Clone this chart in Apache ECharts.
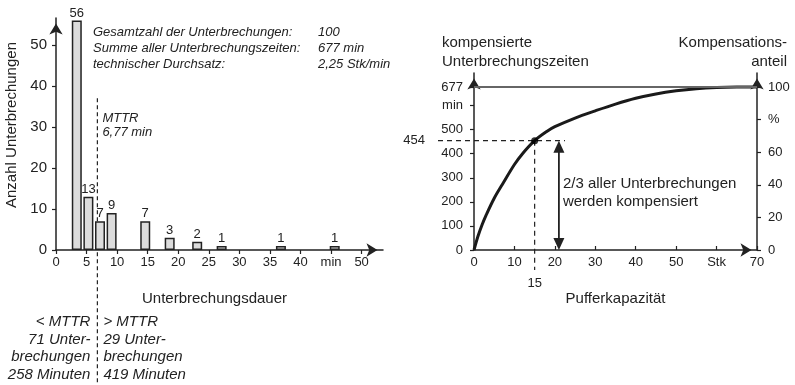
<!DOCTYPE html>
<html>
<head>
<meta charset="utf-8">
<script src="https://cdn.jsdelivr.net/npm/echarts@6/dist/echarts.min.js"></script>
<style>
  html, body { margin: 0; padding: 0; background: #fff; }
  #chart { width: 795px; height: 385px; }
</style>
</head>
<body>
<div id="chart"></div>
<script>
// Histogramm: Unterbrechungsdauer (min) -> Anzahl
var durations = [3.4, 5.3, 7.2, 9.1, 14.6, 18.6, 23.1, 27.1, 36.8, 45.6];
var counts = [56, 13, 7, 9, 7, 3, 2, 1, 1, 1];
var durTicks = [0, 5, 10, 15, 20, 25, 30, 35, 40, 45, 50];
var countTicks = [0, 10, 20, 30, 40, 50];
var mttr = 6.77;
var mttrTop = 37;

// Kompensationskurve: Pufferkapazität (Stk) -> kompensierte Zeit (min)
var bufferSizes = [0, 1, 2, 3, 5, 7, 10, 12, 15, 18, 20, 25, 30, 35, 40, 45, 50, 55, 60, 65, 70];
var compTimes = [0, 58, 105, 145, 215, 272, 355, 400, 454, 492, 512, 548, 578, 606, 630, 648, 661, 670, 675, 677, 677];
var bufferTicks = [0, 10, 20, 30, 40, 50, 60, 70];
var timeTicks = [0, 100, 200, 300, 400, 500, 600, 677];
var shareTicks = [0, 20, 40, 60, 80, 100];
var totalTime = 677;
var markBuffer = 15;
var markTime = 454;
var dashEnd = 22.5;
var arrowBuffer = 21;

var ink = '#222';
var font = 'Liberation Sans, Arial, sans-serif';
var timeMax = 735;

var chart = echarts.init(document.getElementById('chart'));

function axisBase(extra) {
  var a = {
    axisLine: { show: true, lineStyle: { color: ink, width: 1.5 },
      symbol: ['none', 'arrow'], symbolSize: [10, 11], symbolOffset: [0, -5.5] },
    axisTick: { show: true, length: 4, lineStyle: { color: ink, width: 1.2 } },
    axisLabel: { color: ink, fontFamily: font, fontSize: 13 },
    splitLine: { show: false }
  };
  return echarts.util.merge(a, extra, true);
}

var option = {
  animation: false,
  backgroundColor: '#fff',
  textStyle: { fontFamily: font, color: ink },
  grid: [
    { left: 56, top: 18, width: 327, height: 232 },
    { left: 474, top: 73, width: 283, height: 177 }
  ],
  xAxis: [
    axisBase({
      gridIndex: 0, type: 'value', min: 0, max: 53.5,
      name: 'Unterbrechungsdauer', nameLocation: 'middle', nameGap: 41,
      nameTextStyle: { color: ink, fontSize: 15, fontFamily: font, padding: [0, 10, 0, 0] },
      axisTick: { customValues: durTicks },
      axisLabel: { customValues: durTicks, margin: 6,
        formatter: function (v) { return v === 45 ? 'min' : v; } }
    }),
    axisBase({
      gridIndex: 1, type: 'value', min: 0, max: 70,
      name: 'Pufferkapazität', nameLocation: 'middle', nameGap: 41,
      nameTextStyle: { color: ink, fontSize: 15, fontFamily: font },
      axisTick: { customValues: bufferTicks, inside: true },
      axisLabel: { customValues: bufferTicks, margin: 6,
        formatter: function (v) { return v === 60 ? 'Stk' : v; } }
    })
  ],
  yAxis: [
    axisBase({
      gridIndex: 0, type: 'value', min: 0, max: 56.6,
      axisTick: { customValues: countTicks },
      axisLabel: { customValues: countTicks, fontSize: 15, margin: 9 }
    }),
    axisBase({
      gridIndex: 1, type: 'value', min: 0, max: timeMax,
      axisTick: { customValues: timeTicks },
      axisLabel: { customValues: timeTicks, margin: 11,
        formatter: function (v) { return v === 600 ? 'min' : v; } }
    }),
    axisBase({
      gridIndex: 1, type: 'value', position: 'right', min: 0, max: timeMax / totalTime * 100,
      axisTick: { customValues: shareTicks },
      axisLabel: { customValues: shareTicks, margin: 11,
        formatter: function (v) { return v === 80 ? '%' : v; } }
    })
  ],
  series: [
    {
      type: 'bar',
      xAxisIndex: 0, yAxisIndex: 0,
      barWidth: 10,
      itemStyle: { color: '#dcdcdc', borderColor: ink, borderWidth: 1.5 },
      label: { show: true, position: 'top', distance: 1, color: ink, fontSize: 13,
        formatter: function (p) { return p.value[1]; } },
      data: durations.map(function (d, i) { return [d, counts[i]]; })
    },
    {
      type: 'line',
      xAxisIndex: 1, yAxisIndex: 1,
      smooth: 0.35,
      symbol: 'none',
      lineStyle: { color: '#1a1a1a', width: 3 },
      data: bufferSizes.map(function (b, i) { return [b, compTimes[i]]; }),
      markLine: {
        silent: true, symbol: ['none', 'none'], label: { show: false },
        lineStyle: { color: '#666', width: 1.8, type: 'solid' },
        data: [{ yAxis: totalTime }]
      },
      z: 3
    },
    {
      type: 'scatter',
      xAxisIndex: 1, yAxisIndex: 1,
      symbolSize: 7,
      itemStyle: { color: '#000' },
      data: [[markBuffer, markTime]],
      z: 5
    }
  ]
};
chart.setOption(option);

// Beschriftungen und Hilfslinien
var g0 = function (pt) { return chart.convertToPixel({ gridIndex: 0 }, pt); };
var g1 = function (pt) { return chart.convertToPixel({ gridIndex: 1 }, pt); };

function txt(x, y, s, extra) {
  return {
    type: 'text', x: x, y: y, silent: true,
    style: echarts.util.extend({ text: s, fill: ink, font: '13px ' + font, textVerticalAlign: 'middle' }, extra || {})
  };
}

var graphics = [];

// MTTR-Linie
var mTop = g0([mttr, mttrTop]);
graphics.push({ type: 'line', silent: true,
  shape: { x1: mTop[0], y1: mTop[1], x2: mTop[0], y2: 385 },
  style: { stroke: ink, lineWidth: 1.2, lineDash: [4, 3] } });
graphics.push(txt(mTop[0] + 5, mTop[1] + 20, 'MTTR', { font: 'italic 13px ' + font }));
graphics.push(txt(mTop[0] + 5, mTop[1] + 34, '6,77 min', { font: 'italic 13px ' + font }));

var leftLines = ['< MTTR', '71 Unter-', 'brechungen', '258 Minuten'];
var rightLines = ['> MTTR', '29 Unter-', 'brechungen', '419 Minuten'];
leftLines.forEach(function (s, i) {
  graphics.push(txt(mTop[0] - 7, 322 + i * 17.5, s, { font: 'italic 15px ' + font, textAlign: 'right' }));
});
rightLines.forEach(function (s, i) {
  graphics.push(txt(mTop[0] + 6, 322 + i * 17.5, s, { font: 'italic 15px ' + font }));
});

// Kennzahlen
var infoLabels = ['Gesamtzahl der Unterbrechungen:', 'Summe aller Unterbrechungszeiten:', 'technischer Durchsatz:'];
var infoValues = ['100', '677 min', '2,25 Stk/min'];
infoLabels.forEach(function (s, i) {
  graphics.push(txt(93, 32 + i * 16, s, { font: 'italic 13px ' + font }));
  graphics.push(txt(318, 32 + i * 16, infoValues[i], { font: 'italic 13px ' + font }));
});

// y-Achsentitel links
graphics.push({ type: 'text', x: 12, y: 125, rotation: Math.PI / 2, silent: true,
  style: { text: 'Anzahl Unterbrechungen', fill: ink, font: '15px ' + font,
    textAlign: 'center', textVerticalAlign: 'middle' } });

// rechte Grafik: Achsentitel
graphics.push(txt(442, 43, 'kompensierte', { font: '15px ' + font }));
graphics.push(txt(442, 62, 'Unterbrechungszeiten', { font: '15px ' + font }));
graphics.push(txt(787, 43, 'Kompensations-', { font: '15px ' + font, textAlign: 'right' }));
graphics.push(txt(787, 62, 'anteil', { font: '15px ' + font, textAlign: 'right' }));

// 454 / 15 Hilfslinien
var pMark = g1([markBuffer, markTime]);
var pAxis = g1([0, markTime]);
var pEnd = g1([dashEnd, markTime]);
var pBase = g1([markBuffer, 0]);
graphics.push({ type: 'line', silent: true,
  shape: { x1: pAxis[0] - 36, y1: pMark[1], x2: pEnd[0], y2: pMark[1] },
  style: { stroke: ink, lineWidth: 1.2, lineDash: [5, 4] } });
graphics.push({ type: 'line', silent: true,
  shape: { x1: pMark[0], y1: pMark[1], x2: pMark[0], y2: pBase[1] + 20 },
  style: { stroke: ink, lineWidth: 1.2, lineDash: [5, 4] } });
graphics.push(txt(pAxis[0] - 49, pMark[1], String(markTime), { textAlign: 'right' }));
graphics.push(txt(pMark[0], pBase[1] + 33, String(markBuffer), { textAlign: 'center' }));

// Doppelpfeil
var aTop = g1([arrowBuffer, markTime]);
var aBot = g1([arrowBuffer, 0]);
graphics.push({ type: 'line', silent: true,
  shape: { x1: aTop[0], y1: aTop[1] + 10, x2: aBot[0], y2: aBot[1] - 10 },
  style: { stroke: ink, lineWidth: 1.8 } });
graphics.push({ type: 'polygon', silent: true,
  shape: { points: [[aTop[0], aTop[1]], [aTop[0] - 5.5, aTop[1] + 12], [aTop[0] + 5.5, aTop[1] + 12]] },
  style: { fill: ink } });
graphics.push({ type: 'polygon', silent: true,
  shape: { points: [[aBot[0], aBot[1]], [aBot[0] - 5.5, aBot[1] - 12], [aBot[0] + 5.5, aBot[1] - 12]] },
  style: { fill: ink } });
graphics.push(txt(aTop[0] + 4, 184, '2/3 aller Unterbrechungen', { font: '15px ' + font }));
graphics.push(txt(aTop[0] + 4, 202, 'werden kompensiert', { font: '15px ' + font }));

chart.setOption({ graphic: graphics });
</script>
</body>
</html>
